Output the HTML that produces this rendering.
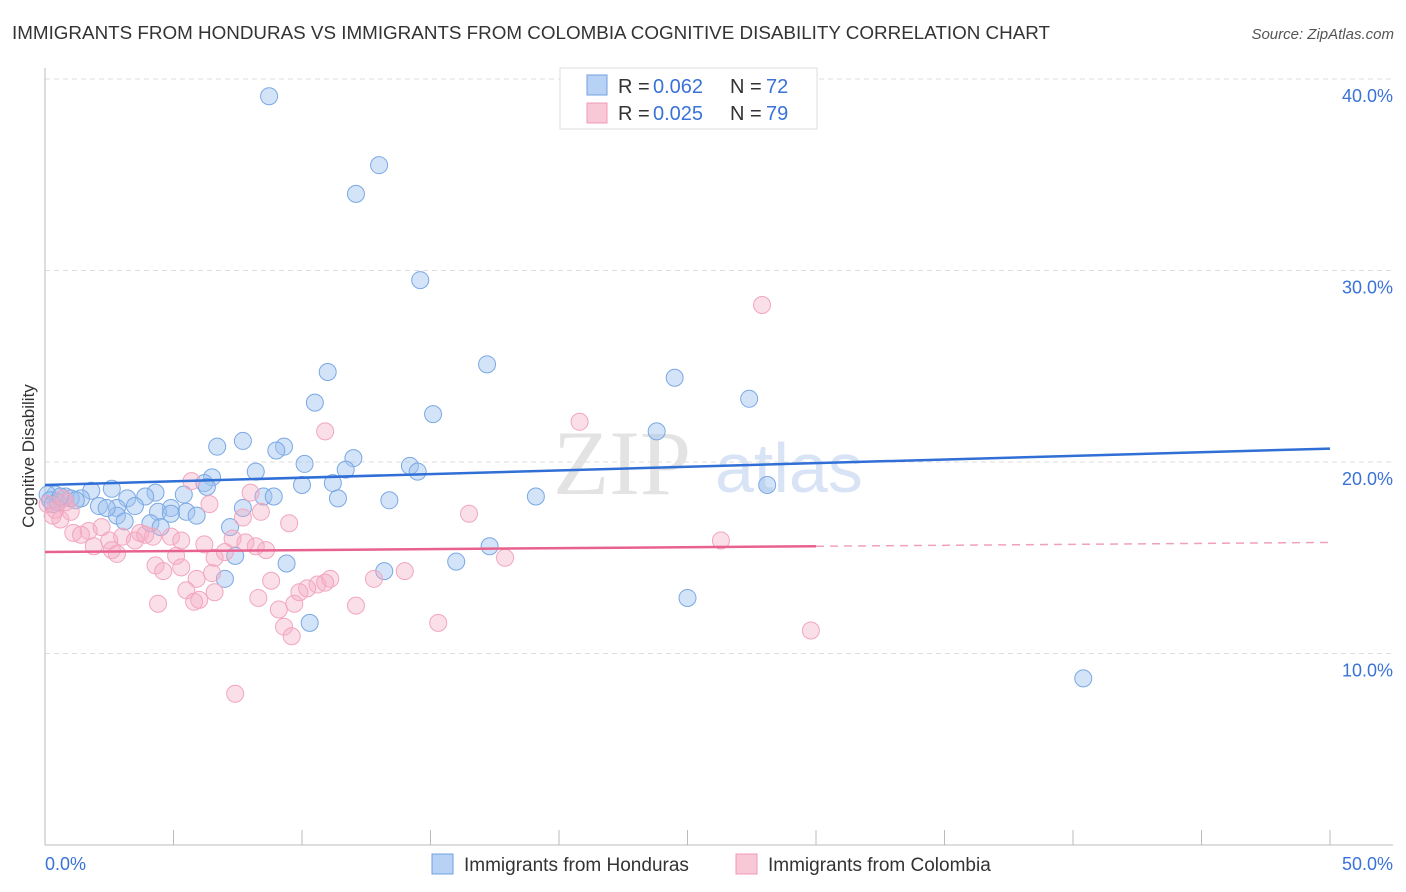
<!DOCTYPE html>
<html><head><meta charset="utf-8"><style>
body{margin:0;background:#fff;font-family:"Liberation Sans",sans-serif}
svg{display:block}
</style></head><body>
<svg id="chart" width="1406" height="892" xmlns="http://www.w3.org/2000/svg">
<text x="12" y="39" font-size="18" fill="#333" textLength="1038" lengthAdjust="spacingAndGlyphs">IMMIGRANTS FROM HONDURAS VS IMMIGRANTS FROM COLOMBIA COGNITIVE DISABILITY CORRELATION CHART</text>
<text x="1394" y="39" font-size="15" fill="#555" text-anchor="end" font-style="italic">Source: ZipAtlas.com</text>
<g>
<text x="553" y="494" font-size="92" font-family="Liberation Serif" fill="#ddd" opacity="0.8">ZIP</text>
<text x="715" y="492" font-size="70" fill="#c8daf2" opacity="0.7">atlas</text>
</g>
<g id="grid"></g><g id="axes"></g><g id="pts"></g><g id="trends"></g>
<text transform="translate(34,456) rotate(-90)" font-size="17" fill="#333" text-anchor="middle">Cognitive Disability</text>
<g>
<rect x="560" y="68" width="257" height="61" fill="#fff" stroke="#ddd"/>
<rect x="587" y="75" width="20" height="20" fill="#b8d2f5" stroke="#6fa0e0"/>
<rect x="587" y="103" width="20" height="20" fill="#f9c8d6" stroke="#f09ab5"/>
<text x="618" y="93" font-size="20" fill="#333">R =</text><text x="653" y="93" font-size="20" fill="#3a72d8">0.062</text>
<text x="730" y="93" font-size="20" fill="#333">N =</text><text x="766" y="93" font-size="20" fill="#3a72d8">72</text>
<text x="618" y="120" font-size="20" fill="#333">R =</text><text x="653" y="120" font-size="20" fill="#3a72d8">0.025</text>
<text x="730" y="120" font-size="20" fill="#333">N =</text><text x="766" y="120" font-size="20" fill="#3a72d8">79</text>
</g>
<g>
<rect x="432" y="854" width="21" height="20" fill="#b8d2f5" stroke="#6fa0e0"/>
<text x="464" y="871" font-size="19" fill="#333">Immigrants from Honduras</text>
<rect x="736" y="854" width="21" height="20" fill="#f9c8d6" stroke="#f09ab5"/>
<text x="768" y="871" font-size="19" fill="#333">Immigrants from Colombia</text>
</g>
</svg>
<script>
const yTicks=[10,20,30,40];
const yTickLabels=["10.0%","20.0%","30.0%","40.0%"];
const xTicks=[0,5,10,15,20,25,30,35,40,45,50];
const xEndLabels=["0.0%","50.0%"];
const hondX=[8.72,13.0,12.1,14.6,17.2,11.0,24.5,27.4,10.5,15.1,23.8,6.7,7.7,9.3,9.0,12.0,10.1,14.2,11.7,8.2,14.5,6.5,6.2,11.2,10.0,28.1,19.1,6.3,2.6,1.8,4.3,5.4,0.4,0.8,1.4,3.2,3.9,8.5,8.9,11.4,13.4,2.1,2.8,3.5,4.9,5.5,7.7,5.9,2.8,4.4,4.9,3.1,4.1,7.2,4.5,7.4,17.3,9.4,16.0,13.2,7.0,25.0,10.3,40.4,0.1,0.2,0.5,1.0,0.3,1.2,0.6,2.4];
const hondY=[39.1,35.5,34.0,29.5,25.1,24.7,24.4,23.3,23.1,22.5,21.6,20.8,21.1,20.8,20.6,20.2,19.9,19.8,19.6,19.5,19.5,19.2,18.9,18.9,18.8,18.8,18.2,18.7,18.6,18.5,18.4,18.3,18.3,18.2,18.1,18.1,18.2,18.2,18.2,18.1,18.0,17.7,17.6,17.7,17.6,17.4,17.6,17.2,17.2,17.4,17.3,16.9,16.8,16.6,16.6,15.1,15.6,14.7,14.8,14.3,13.9,12.9,11.6,8.7,18.3,18.0,17.9,18.1,17.8,18.0,18.2,17.6];
const colX=[27.9,20.8,10.9,5.7,8.0,16.5,8.4,7.7,6.4,9.5,2.2,1.7,0.6,1.0,0.4,1.1,3.7,4.2,4.9,5.3,3.0,2.5,1.9,2.6,2.8,1.4,3.5,3.9,6.2,7.3,7.8,8.2,8.6,5.1,6.6,7.0,26.3,17.9,4.3,4.6,5.3,14.0,12.8,5.9,6.5,8.8,11.1,10.6,10.2,5.5,8.3,6.0,5.8,4.4,9.7,12.1,9.1,15.3,9.3,9.6,29.8,7.4,9.9,10.9,0.1,0.8,0.3,6.6,0.7];
const colY=[28.2,22.1,21.6,19.0,18.4,17.3,17.4,17.1,17.8,16.8,16.6,16.4,17.0,17.4,17.5,16.3,16.3,16.1,16.1,15.9,16.1,15.9,15.6,15.4,15.2,16.2,15.9,16.2,15.7,16.0,15.8,15.6,15.4,15.1,15.0,15.3,15.9,15.0,14.6,14.3,14.5,14.3,13.9,13.9,14.2,13.8,13.9,13.6,13.4,13.3,12.9,12.8,12.7,12.6,12.6,12.5,12.3,11.6,11.4,10.9,11.2,7.9,13.2,13.7,17.8,17.9,17.2,13.2,18.1];
const hondTrend=[18.8,20.7];
const colTrend=[15.3,15.8];
const colSolidEnd=30;
const X=v=>45+v*25.7, Y=v=>845-v*19.15;
const NS="http://www.w3.org/2000/svg";
function mk(t,p,a){const e=document.createElementNS(NS,t);for(const k in a)e.setAttribute(k,a[k]);p.appendChild(e);return e;}
const grid=document.getElementById('grid'),axes=document.getElementById('axes'),pts=document.getElementById('pts'),tr=document.getElementById('trends');
yTicks.forEach((t,i)=>{
 const l=mk('line',grid,{x1:45,x2:1393,y1:Y(t),y2:Y(t),stroke:'#ddd','stroke-dasharray':'5,4'});
 
 
 const tx=mk('text',grid,{x:1393,y:Y(t)+23,'font-size':18,fill:'#3a72d8','text-anchor':'end'});
 
 
 tx.textContent=yTickLabels[i];
});
const ya=mk('line',axes,{x1:45,x2:45,y1:68,y2:845,stroke:'#bbb'});


const xa=mk('line',axes,{x1:45,x2:1393,y1:845,y2:845,stroke:'#bbb'});


xTicks.forEach(t=>{const l=mk('line',axes,{x1:X(t),x2:X(t),y1:830,y2:845,stroke:'#bbb'});
 
 });
[[0,'start',45],[50,'end',1393]].forEach((d,i)=>{const tx=mk('text',axes,{x:d[2],y:870,'font-size':18,fill:'#3a72d8','text-anchor':d[1]});
 
 
 tx.textContent=xEndLabels[i];});
hondX.forEach((v,i)=>{const c=mk('circle',pts,{cx:X(v),cy:Y(hondY[i]),r:8.5,fill:'rgba(160,195,240,0.45)',stroke:'#7aa8e4','stroke-width':1});
 
 });
colX.forEach((v,i)=>{const c=mk('circle',pts,{cx:X(v),cy:Y(colY[i]),r:8.5,fill:'rgba(245,170,195,0.38)',stroke:'#f2a6be','stroke-width':1});
 
 });
const bl=mk('line',tr,{x1:X(0),x2:X(50),y1:Y(hondTrend[0]),y2:Y(hondTrend[1]),stroke:'#2f6fd6','stroke-width':2.5});


const cm=colTrend[0]+(colTrend[1]-colTrend[0])*colSolidEnd/50;
const pl=mk('line',tr,{x1:X(0),x2:X(colSolidEnd),y1:Y(colTrend[0]),y2:Y(cm),stroke:'#e8628f','stroke-width':2.5});


const pd=mk('line',tr,{x1:X(colSolidEnd),x2:X(50),y1:Y(cm),y2:Y(colTrend[1]),stroke:'#e8628f','stroke-width':1.5,'stroke-dasharray':'8,6',opacity:0.6});


</script>
</body></html>
